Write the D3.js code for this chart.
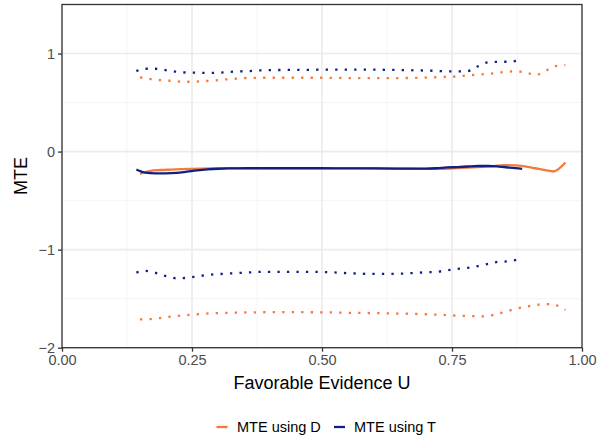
<!DOCTYPE html>
<html>
<head>
<meta charset="utf-8">
<script src="https://cdn.jsdelivr.net/npm/d3@7"></script>
<style>
  html, body { margin: 0; padding: 0; background: #fff; }
  svg { display: block; font-family: "Liberation Sans", Arial, Helvetica, sans-serif; }
</style>
</head>
<body>
<svg id="chart" width="608" height="440"></svg>
<script>
// ---- data ----
const uD = [0.15,0.17,0.19,0.21,0.23,0.25,0.27,0.29,0.31,0.33,0.35,0.40,0.45,0.50,0.55,0.60,0.65,0.70,0.73,0.75,0.77,0.79,0.81,0.83,0.85,0.87,0.89,0.91,0.93,0.945,0.968];
const mteD = [-0.227,-0.196,-0.188,-0.184,-0.179,-0.176,-0.173,-0.171,-0.170,-0.169,-0.168,-0.168,-0.168,-0.168,-0.169,-0.170,-0.173,-0.177,-0.176,-0.172,-0.167,-0.161,-0.155,-0.148,-0.138,-0.140,-0.150,-0.170,-0.190,-0.203,-0.112];
const upperD = [0.757,0.740,0.728,0.722,0.713,0.712,0.718,0.724,0.734,0.742,0.750,0.753,0.753,0.753,0.750,0.750,0.750,0.754,0.760,0.763,0.773,0.781,0.789,0.798,0.812,0.818,0.810,0.782,0.822,0.868,0.882];
const lowerD = [-1.712,-1.708,-1.697,-1.683,-1.672,-1.663,-1.654,-1.649,-1.645,-1.643,-1.641,-1.638,-1.638,-1.639,-1.644,-1.647,-1.652,-1.659,-1.665,-1.671,-1.675,-1.679,-1.680,-1.665,-1.637,-1.607,-1.584,-1.565,-1.556,-1.560,-1.615];

const uT = [0.143,0.16,0.18,0.20,0.22,0.24,0.26,0.28,0.30,0.32,0.34,0.36,0.38,0.40,0.45,0.50,0.55,0.60,0.65,0.70,0.72,0.74,0.76,0.78,0.80,0.82,0.84,0.86,0.885];
const mteT = [-0.183,-0.215,-0.223,-0.222,-0.217,-0.205,-0.192,-0.182,-0.175,-0.172,-0.171,-0.170,-0.170,-0.170,-0.170,-0.170,-0.171,-0.172,-0.174,-0.174,-0.170,-0.162,-0.158,-0.152,-0.147,-0.147,-0.153,-0.163,-0.176];
const upperT = [0.821,0.845,0.845,0.830,0.815,0.806,0.804,0.802,0.804,0.812,0.818,0.821,0.828,0.831,0.833,0.835,0.835,0.835,0.832,0.826,0.823,0.818,0.818,0.821,0.870,0.912,0.916,0.916,0.940];
const lowerT = [-1.234,-1.217,-1.237,-1.270,-1.292,-1.288,-1.273,-1.258,-1.250,-1.243,-1.238,-1.232,-1.227,-1.227,-1.227,-1.228,-1.240,-1.248,-1.245,-1.231,-1.226,-1.212,-1.197,-1.186,-1.168,-1.145,-1.124,-1.119,-1.085];

const seriesNames = ["MTE using D", "MTE using T"];
const seriesColors = ["#F5793A", "#0F2080"];
const xTicks = [0, 0.25, 0.5, 0.75, 1];
const xTickLabels = ["0.00", "0.25", "0.50", "0.75", "1.00"];
const yTicks = [-2, -1, 0, 1];
const yTickLabels = ["\u22122", "\u22121", "0", "1"];
const xMinor = [0.125, 0.375, 0.625, 0.875];
const yMinor = [-1.5, -0.5, 0.5];

// ---- layout ----
const svg = d3.select("#chart");
const L = 62, R = 582, T = 4.5, B = 347.7;
const x = d3.scaleLinear().domain([0, 1]).range([L, R]);
const y = d3.scaleLinear().domain([-2, 1.5]).range([B, T]);

// grid
const g = svg.append("g");
g.selectAll(".xmin").data(xMinor).enter().append("line")
  .attr("x1", d => x(d)).attr("x2", d => x(d)).attr("y1", T).attr("y2", B)
  .attr("stroke", "#F2F2F2").attr("stroke-width", 0.8);
g.selectAll(".ymin").data(yMinor).enter().append("line")
  .attr("x1", L).attr("x2", R).attr("y1", d => y(d)).attr("y2", d => y(d))
  .attr("stroke", "#F2F2F2").attr("stroke-width", 0.8);
g.selectAll(".xmaj").data(xTicks).enter().append("line")
  .attr("x1", d => x(d)).attr("x2", d => x(d)).attr("y1", T).attr("y2", B)
  .attr("stroke", "#EBEBEB").attr("stroke-width", 1.6);
g.selectAll(".ymaj").data(yTicks).enter().append("line")
  .attr("x1", L).attr("x2", R).attr("y1", d => y(d)).attr("y2", d => y(d))
  .attr("stroke", "#EBEBEB").attr("stroke-width", 1.6);

// lines
const line = (us, vs) => d3.line().x((d, i) => x(us[i])).y(d => y(d)).curve(d3.curveMonotoneX)(vs);
const dash = "2.3 7.2";
function drawSeries(us, mte, lo, up, color) {
  svg.append("path").attr("d", line(us, up)).attr("fill", "none")
    .attr("stroke", color).attr("stroke-width", 2.3).attr("stroke-dasharray", dash);
  svg.append("path").attr("d", line(us, lo)).attr("fill", "none")
    .attr("stroke", color).attr("stroke-width", 2.3).attr("stroke-dasharray", dash);
  svg.append("path").attr("d", line(us, mte)).attr("fill", "none")
    .attr("stroke", color).attr("stroke-width", 2.3);
}
drawSeries(uD, mteD, lowerD, upperD, seriesColors[0]);
drawSeries(uT, mteT, lowerT, upperT, seriesColors[1]);

// panel border
svg.append("rect").attr("x", L).attr("y", T).attr("width", R - L).attr("height", B - T)
  .attr("fill", "none").attr("stroke", "#333333").attr("stroke-width", 1.3);

// axes
const xAxis = d3.axisBottom(x).tickValues(xTicks).tickFormat((d, i) => xTickLabels[i]).tickSizeOuter(0).tickSize(4).tickPadding(3);
const yAxis = d3.axisLeft(y).tickValues(yTicks).tickFormat((d, i) => yTickLabels[i]).tickSizeOuter(0).tickSize(4).tickPadding(3);
const gx = svg.append("g").attr("transform", `translate(0,${B})`).call(xAxis);
const gy = svg.append("g").attr("transform", `translate(${L},0)`).call(yAxis);
[gx, gy].forEach(a => {
  a.select(".domain").remove();
  a.selectAll(".tick line").attr("stroke", "#333333").attr("stroke-width", 1.3);
  a.selectAll(".tick text").attr("fill", "#4D4D4D").style("font-size", "14.5px")
    .style("font-family", '"Liberation Sans", Arial, sans-serif');
});

// axis titles
svg.append("text").attr("x", (L + R) / 2).attr("y", 389).attr("text-anchor", "middle")
  .style("font-size", "18px").attr("fill", "#000").text("Favorable Evidence U");
svg.append("text").attr("transform", `translate(27,${(T + B) / 2}) rotate(-90)`)
  .attr("text-anchor", "middle").style("font-size", "18px").attr("fill", "#000").text("MTE");

// legend
const legendItems = [
  { name: seriesNames[0], color: seriesColors[0], kx: 216.5, tx: 237 },
  { name: seriesNames[1], color: seriesColors[1], kx: 334, tx: 354 }
];
const lg = svg.append("g");
legendItems.forEach(it => {
  lg.append("line").attr("x1", it.kx).attr("x2", it.kx + 11).attr("y1", 427).attr("y2", 427)
    .attr("stroke", it.color).attr("stroke-width", 2.3);
  lg.append("text").attr("x", it.tx).attr("y", 427).attr("dy", "0.35em")
    .style("font-size", "14.5px").attr("fill", "#000").text(it.name);
});
</script>
</body>
</html>
